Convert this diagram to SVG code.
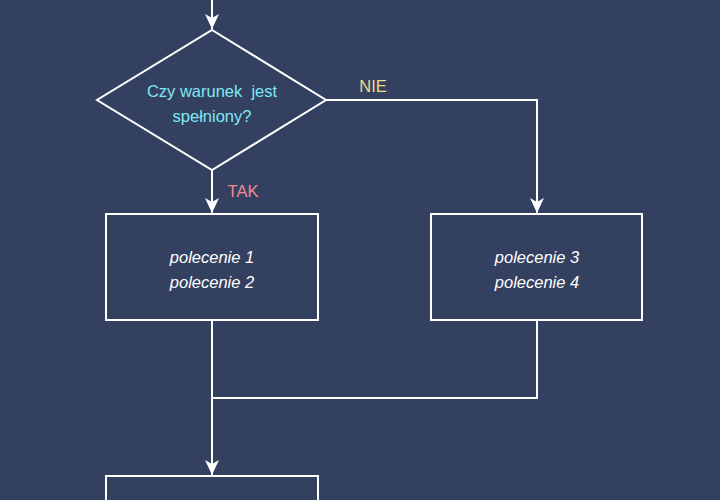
<svg xmlns="http://www.w3.org/2000/svg" width="720" height="500" viewBox="0 0 720 500">
<style>
.s{fill:none;stroke:#fff;stroke-width:2}
.t{font-family:"Liberation Sans",Arial,sans-serif;font-size:16.5px;text-anchor:middle}
.i{fill:#fff;font-style:italic}
</style>
<defs><marker id="a" markerWidth="16" markerHeight="16" refX="15" refY="7" orient="auto" markerUnits="userSpaceOnUse"><path d="M0,0 L15,7 L0,14 L4,7 Z" fill="#fff"/></marker></defs>
<rect width="720" height="500" fill="#344060"/>
<g id="connectors">
<path class="s" d="M212,0 V29" marker-end="url(#a)"/>
<path class="s" d="M212,170 V213" marker-end="url(#a)"/>
<path class="s" d="M326,100 H537 V213" marker-end="url(#a)"/>
<path class="s" d="M212,320 V475" marker-end="url(#a)"/>
<path class="s" d="M537,320 V398 H212"/>
<text class="t" x="243" y="197" fill="#f08c96">TAK</text>
<text class="t" x="373" y="92" fill="#f0dc8c">NIE</text>
</g>
<g id="decision"><polygon class="s" points="212,30 326,100 212,170 97,100"/>
<text class="t" x="212" y="97" fill="#7ee8f4">Czy warunek&#160; jest</text>
<text class="t" x="212" y="122" fill="#7ee8f4">spełniony?</text></g>
<g id="box1"><rect class="s" x="106" y="214" width="212" height="106"/>
<text class="t i" x="212" y="263">polecenie 1</text><text class="t i" x="212" y="288">polecenie 2</text></g>
<g id="box2"><rect class="s" x="431" y="214" width="211" height="106"/>
<text class="t i" x="537" y="263">polecenie 3</text><text class="t i" x="537" y="288">polecenie 4</text></g>
<g id="box3"><rect class="s" x="106" y="476" width="212" height="60"/></g>
</svg>
